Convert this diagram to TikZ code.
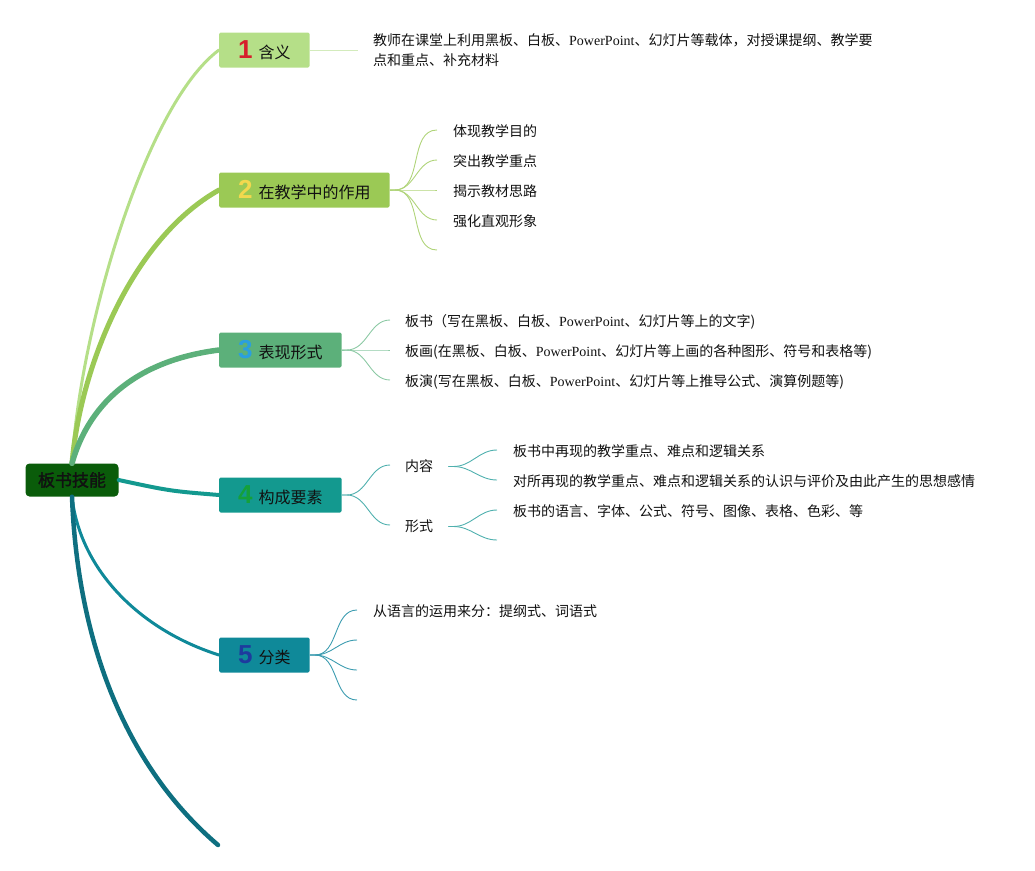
\documentclass[tikz,border=0pt]{standalone}
\usepackage{fontspec}
\setmainfont[AutoFakeBold=1.5]{Noto Sans CJK SC}
\newfontfamily\latinfont{Liberation Serif}
\newfontfamily\numfont{Liberation Sans}
\usetikzlibrary{positioning}
\definecolor{cA}{HTML}{B5DF88}
\definecolor{cB}{HTML}{9BC955}
\definecolor{cC}{HTML}{5CB07A}
\definecolor{cD}{HTML}{13998F}
\definecolor{cE}{HTML}{0F8999}
\definecolor{cF}{HTML}{0E6F80}
\definecolor{lA}{HTML}{D3EBBC}
\definecolor{lB}{HTML}{B0D47A}
\definecolor{lC}{HTML}{8CC9A4}
\definecolor{lD}{HTML}{4FB0AE}
\definecolor{lE}{HTML}{3C9CB0}
\definecolor{nA}{HTML}{D61F2C}
\definecolor{nB}{HTML}{F2D84E}
\definecolor{nC}{HTML}{2A9FE0}
\definecolor{nD}{HTML}{15A03A}
\definecolor{nE}{HTML}{1E3A9E}
\definecolor{rootgreen}{HTML}{0A5C0A}
\definecolor{txt}{HTML}{111111}
\newcommand\badge[2]{{\numfont\bfseries\fontsize{26}{26}\selectfont\color{#1}#2}\hspace{6pt}}
\newcommand\pp{{\latinfont PowerPoint}}

\begin{document}
\begin{tikzpicture}[x=1pt, y=-1pt,
    topic/.style = {fill=#1, rounded corners=1.5pt, minimum height=35pt, inner xsep=19pt,
                    inner ysep=0pt, anchor=west, text=txt, font=\fontsize{16}{16}\selectfont},
    leaf/.style = {inner sep=0pt, text=txt, font=\fontsize{14}{20}\selectfont},
    fan/.style = {draw=#1, line width=0.9pt},
    trunk/.style = {draw=#1, line cap=round}]
  \useasboundingbox (0,0) rectangle (1035,870);

  % main topics
  \node[fill=rootgreen, rounded corners=4pt, minimum width=93pt, minimum height=33pt,
        text=txt, font=\fontsize{17}{17}\selectfont\bfseries] (root) at (72,480) {板书技能};
  \node[topic=cA] (b1) at (219,50) {\badge{nA}{1}含义};
  \node[topic=cB] (b2) at (219,190) {\badge{nB}{2}在教学中的作用};
  \node[topic=cC] (b3) at (219,350) {\badge{nC}{3}表现形式};
  \node[topic=cD] (b4) at (219,495) {\badge{nD}{4}构成要素};
  \node[topic=cE] (b5) at (219,655) {\badge{nE}{5}分类};
  \coordinate (b6) at (218,845);

  % trunks
  \draw[trunk=cA, line width=3pt] (root.north) .. controls (80,330) and (145,105) .. (b1.west);
  \draw[trunk=cB, line width=5pt] (root.north) .. controls (80,370) and (130,240) .. (b2.west);
  \draw[trunk=cC, line width=5.5pt] (root.north) .. controls (90,400) and (140,360) .. (b3.west);
  \draw[trunk=cD, line width=4pt] (root.east) .. controls (170,491) .. (b4.west);
  \draw[trunk=cE, line width=3pt] (root.south) .. controls (80,570) and (140,630) .. (b5.west);
  \draw[trunk=cF, line width=4.5pt] (root.south) .. controls (78,650) and (130,770) .. (b6);

  % 1
  \coordinate (f11) at (358,50);
  \draw[fan=lA] (b1.east) -- (f11);
  \node[leaf, right=15pt of f11, align=left] (t11)
    {教师在课堂上利用黑板、白板、\pp、幻灯片等载体，对授课提纲、教学要\\点和重点、补充材料};

  % 2
  \foreach \yy [count=\i] in {130,160,190,220,250}
    \coordinate (f2\i) at (437,\yy);
  \foreach \i in {1,...,5}
    \draw[fan=lB] (b2.east) -- ++(5,0) to[out=0, in=180] (f2\i);
  \node[leaf, right=16pt of f21, yshift=-1.5pt] (t21) {体现教学目的};
  \node[leaf, right=16pt of f22, yshift=-1.5pt] (t22) {突出教学重点};
  \node[leaf, right=16pt of f23, yshift=-1.5pt] (t23) {揭示教材思路};
  \node[leaf, right=16pt of f24, yshift=-1.5pt] (t24) {强化直观形象};

  % 3
  \foreach \yy [count=\i] in {320,350,380}
    \coordinate (f3\i) at (390,\yy);
  \foreach \i in {1,...,3}
    \draw[fan=lC] (b3.east) -- ++(5,0) to[out=0, in=180] (f3\i);
  \node[leaf, right=15pt of f31, yshift=-1.5pt] (t31) {板书（写在黑板、白板、\pp、幻灯片等上的文字)};
  \node[leaf, right=15pt of f32, yshift=-1.5pt] (t32) {板画(在黑板、白板、\pp、幻灯片等上画的各种图形、符号和表格等)};
  \node[leaf, right=15pt of f33, yshift=-1.5pt] (t33) {板演(写在黑板、白板、\pp、幻灯片等上推导公式、演算例题等)};

  % 4
  \coordinate (f41) at (390,465);
  \coordinate (f42) at (390,525);
  \draw[fan=lD] (b4.east) -- ++(5,0) to[out=0, in=180] (f41);
  \draw[fan=lD] (b4.east) -- ++(5,0) to[out=0, in=180] (f42);
  \node[leaf, right=15pt of f41, yshift=-1.5pt] (k1) {内容};
  \node[leaf, right=15pt of f42, yshift=-1.5pt] (k2) {形式};
  \foreach \yy [count=\i] in {450,480,510,540}
    \coordinate (g4\i) at (497,\yy);
  \draw[fan=lD] ([xshift=15pt]k1.east) -- ++(5,0) to[out=0, in=180] (g41);
  \draw[fan=lD] ([xshift=15pt]k1.east) -- ++(5,0) to[out=0, in=180] (g42);
  \draw[fan=lD] ([xshift=15pt]k2.east) -- ++(5,0) to[out=0, in=180] (g43);
  \draw[fan=lD] ([xshift=15pt]k2.east) -- ++(5,0) to[out=0, in=180] (g44);
  \node[leaf, right=16pt of g41, yshift=-1.5pt] (t41) {板书中再现的教学重点、难点和逻辑关系};
  \node[leaf, right=16pt of g42, yshift=-1.5pt] (t42) {对所再现的教学重点、难点和逻辑关系的认识与评价及由此产生的思想感情};
  \node[leaf, right=16pt of g43, yshift=-1.5pt] (t43) {板书的语言、字体、公式、符号、图像、表格、色彩、等};

  % 5
  \foreach \yy [count=\i] in {610,640,670,700}
    \coordinate (f5\i) at (357,\yy);
  \foreach \i in {1,...,4}
    \draw[fan=lE] (b5.east) -- ++(5,0) to[out=0, in=180] (f5\i);
  \node[leaf, right=16pt of f51, yshift=-1.5pt] (t51) {从语言的运用来分：提纲式、词语式};
\end{tikzpicture}
\end{document}
